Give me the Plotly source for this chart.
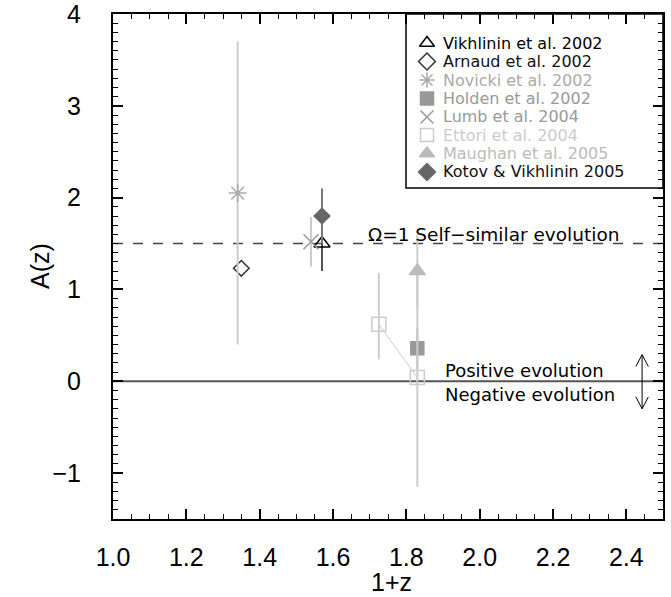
import plotly.graph_objects as go

# ---- data ----
names = ["Vikhlinin et al. 2002", "Arnaud et al. 2002", "Novicki et al. 2002",
         "Holden et al. 2002", "Lumb et al. 2004", "Ettori et al. 2004",
         "Maughan et al. 2005", "Kotov &amp; Vikhlinin 2005"]

vikhlinin_x = [1.57]; vikhlinin_y = [1.50]; vikhlinin_up = [0.30]; vikhlinin_dn = [0.30]
arnaud_x = [1.35]; arnaud_y = [1.23]; arnaud_up = [0.0]; arnaud_dn = [0.0]
novicki_x = [1.34]; novicki_y = [2.05]; novicki_up = [1.65]; novicki_dn = [1.65]
holden_x = [1.83]; holden_y = [0.36]; holden_up = [0.22]; holden_dn = [0.22]
lumb_x = [1.54]; lumb_y = [1.52]; lumb_up = [0.27]; lumb_dn = [0.27]
ettori_x = [1.725, 1.83]; ettori_y = [0.62, 0.04]; ettori_up = [0.56, 1.16]; ettori_dn = [0.38, 1.19]
maughan_x = [1.83]; maughan_y = [1.20]; maughan_up = [0.40]; maughan_dn = [0.40]
kotov_x = [1.57]; kotov_y = [1.80]; kotov_up = [0.30]; kotov_dn = [0.30]

x_ticks = [1.0, 1.2, 1.4, 1.6, 1.8, 2.0, 2.2, 2.4]
x_ticklabels = ["1.0", "1.2", "1.4", "1.6", "1.8", "2.0", "2.2", "2.4"]
y_ticks = [-1, 0, 1, 2, 3, 4]
y_ticklabels = ["\u22121", "0", "1", "2", "3", "4"]

X_RANGE = [1.0, 2.5]
Y_RANGE = [-1.5, 4.0]

FONT = "DejaVu Sans"
TICKFONT = dict(family="Liberation Sans", size=25, color="#000000")

# style per series: symbol, marker colour, error-bar colour, legend text colour, size
styles = [
    ("triangle-up-open", "#000000", "#555555", "#000000", 14),
    ("diamond-open", "#333333", "#333333", "#111111", 12),
    ("asterisk-open", "#aaaaaa", "#cccccc", "#aaaaaa", 15),
    ("square", "#999999", "#aaaaaa", "#999999", 13),
    ("x-thin-open", "#999999", "#cccccc", "#999999", 15),
    ("square-open", "#cccccc", "#cccccc", "#cccccc", 14),
    ("triangle-up", "#bbbbbb", "#cccccc", "#bbbbbb", 14),
    ("diamond", "#666666", "#777777", "#111111", 12),
]
series = [
    (vikhlinin_x, vikhlinin_y, vikhlinin_up, vikhlinin_dn),
    (arnaud_x, arnaud_y, arnaud_up, arnaud_dn),
    (novicki_x, novicki_y, novicki_up, novicki_dn),
    (holden_x, holden_y, holden_up, holden_dn),
    (lumb_x, lumb_y, lumb_up, lumb_dn),
    (ettori_x, ettori_y, ettori_up, ettori_dn),
    (maughan_x, maughan_y, maughan_up, maughan_dn),
    (kotov_x, kotov_y, kotov_up, kotov_dn),
]

fig = go.Figure()

# Ettori connecting line
fig.add_trace(go.Scatter(x=ettori_x, y=ettori_y, mode="lines",
                         line=dict(color="#cccccc", width=1), showlegend=False,
                         hoverinfo="skip"))

for (x, y, up, dn), (sym, mc, ec, tc, sz), nm in zip(series, styles, names):
    fig.add_trace(go.Scatter(
        x=x, y=y, mode="markers", name=nm, showlegend=False,
        marker=dict(symbol=sym, size=sz, color=mc, line=dict(color=mc, width=1.5)),
        error_y=dict(type="data", array=up, arrayminus=dn, symmetric=False,
                     color=ec, thickness=2, width=0, visible=True),
    ))

# ---- hand-built legend (on a 0..1 overlay axis covering the plot area) ----
PLOT_L, PLOT_R, PLOT_T, PLOT_B = 113, 663, 14, 519
W, H = 671, 597
def fx(px):
    return (px - PLOT_L) / (PLOT_R - PLOT_L)
def fy(py):
    return (PLOT_B - py) / (PLOT_B - PLOT_T)

legend_rows_px = [43, 61.5, 80, 98.5, 117, 135, 153.5, 172]
leg_sym_x = fx(427)
leg_txt_x = fx(441)
fig.add_shape(type="rect", xref="paper", yref="paper",
              x0=fx(406), x1=1.0, y0=fy(188), y1=1.0,
              line=dict(color="#000000", width=1.5), fillcolor="white", layer="below")
for (sym, mc, ec, tc, sz), nm, py in zip(styles, names, legend_rows_px):
    fig.add_trace(go.Scatter(x=[leg_sym_x], y=[fy(py)], xaxis="x3", yaxis="y3",
                             mode="markers", showlegend=False, hoverinfo="skip",
                             marker=dict(symbol=sym, size=13, color=mc,
                                         line=dict(color=mc, width=1.5))))
    fig.add_annotation(xref="paper", yref="paper", x=leg_txt_x, y=fy(py),
                       xanchor="left", yanchor="middle", text=nm, showarrow=False,
                       font=dict(family=FONT, size=16, color=tc))

# axis titles placed as annotations
fig.add_annotation(xref="paper", yref="paper", x=fx(40), y=fy(266),
                   xanchor="center", yanchor="middle", text="A(z)", textangle=-90,
                   showarrow=False, font=TICKFONT)
fig.add_annotation(xref="paper", yref="paper", x=fx(391), y=fy(582),
                   xanchor="center", yanchor="middle", text="1+z",
                   showarrow=False, font=TICKFONT)

# reference lines
fig.add_shape(type="line", xref="paper", x0=0, x1=1, yref="y", y0=0, y1=0,
              line=dict(color="#555555", width=2), layer="below")
fig.add_shape(type="line", xref="paper", x0=0, x1=1, yref="y", y0=1.5, y1=1.5,
              line=dict(color="#444444", width=1.5, dash="10px,10px"), layer="below")

# double-headed arrow
ax = 2.443
y_top, y_bot = 0.29, -0.30
hx, hy = 0.017, 0.13
fig.add_shape(type="line", x0=ax, x1=ax, y0=y_bot, y1=y_top,
              line=dict(color="#000000", width=1))
fig.add_shape(type="path",
              path=f"M {ax-hx},{y_top-hy} L {ax},{y_top} L {ax+hx},{y_top-hy}",
              line=dict(color="#000000", width=1))
fig.add_shape(type="path",
              path=f"M {ax-hx},{y_bot+hy} L {ax},{y_bot} L {ax+hx},{y_bot+hy}",
              line=dict(color="#000000", width=1))

# annotations
fig.add_annotation(x=1.69, y=1.5, xanchor="left", yanchor="bottom",
                   text="\u03a9=1 Self\u2212similar evolution", showarrow=False,
                   font=dict(family=FONT, size=18.5, color="#000000"), yshift=-3)
fig.add_annotation(x=1.9, y=0.12, xanchor="left", yanchor="middle",
                   text="Positive evolution", showarrow=False,
                   font=dict(family=FONT, size=18, color="#000000"))
fig.add_annotation(x=1.9, y=-0.14, xanchor="left", yanchor="middle",
                   text="Negative evolution", showarrow=False,
                   font=dict(family=FONT, size=18, color="#000000"))

tick_common = dict(ticks="inside", ticklen=10, tickwidth=1.5, tickcolor="#000000",
                   showgrid=False, zeroline=False, automargin=False)

fig.update_layout(
    xaxis=dict(range=X_RANGE, tickvals=x_ticks, ticktext=x_ticklabels,
               showline=True, linecolor="#000000", linewidth=2, mirror=True,
               tickfont=TICKFONT, ticklabeloverflow="allow", ticklabelstandoff=15,
               minor=dict(ticks="inside", ticklen=5, dtick=0.05, tick0=1.0,
                          tickcolor="#000000", tickwidth=1.2, showgrid=False),
               **tick_common),
    yaxis=dict(range=Y_RANGE, tickvals=y_ticks, ticktext=y_ticklabels,
               showline=True, linecolor="#000000", linewidth=2, mirror=True,
               tickfont=TICKFONT, ticklabeloverflow="allow", ticklabelstandoff=25,
               minor=dict(ticks="inside", ticklen=5, dtick=0.1, tick0=0,
                          tickcolor="#000000", tickwidth=1.2, showgrid=False),
               **tick_common),
    xaxis2=dict(range=X_RANGE, overlaying="x", side="top", tickvals=x_ticks,
                showticklabels=False,
                minor=dict(ticks="inside", ticklen=5, dtick=0.05, tick0=1.0,
                           tickcolor="#000000", tickwidth=1.2, showgrid=False),
                **tick_common),
    yaxis2=dict(range=Y_RANGE, overlaying="y", side="right", tickvals=y_ticks,
                showticklabels=False,
                minor=dict(ticks="inside", ticklen=5, dtick=0.1, tick0=0,
                           tickcolor="#000000", tickwidth=1.2, showgrid=False),
                **tick_common),
    xaxis3=dict(range=[0, 1], overlaying="x", visible=False, automargin=False),
    yaxis3=dict(range=[0, 1], overlaying="y", visible=False, automargin=False),
    width=W, height=H,
    margin=dict(l=PLOT_L, r=W - PLOT_R, t=PLOT_T, b=H - PLOT_B),
    plot_bgcolor="white", paper_bgcolor="white",
    font=dict(family=FONT),
    showlegend=False,
)

# invisible trace so the mirrored tick axes are drawn
fig.add_trace(go.Scatter(x=[None], y=[None], xaxis="x2", yaxis="y2",
                         mode="markers", showlegend=False, hoverinfo="skip"))

fig.write_html("out.html", config={"displayModeBar": False},
               post_script="document.body.style.margin='0px';")
